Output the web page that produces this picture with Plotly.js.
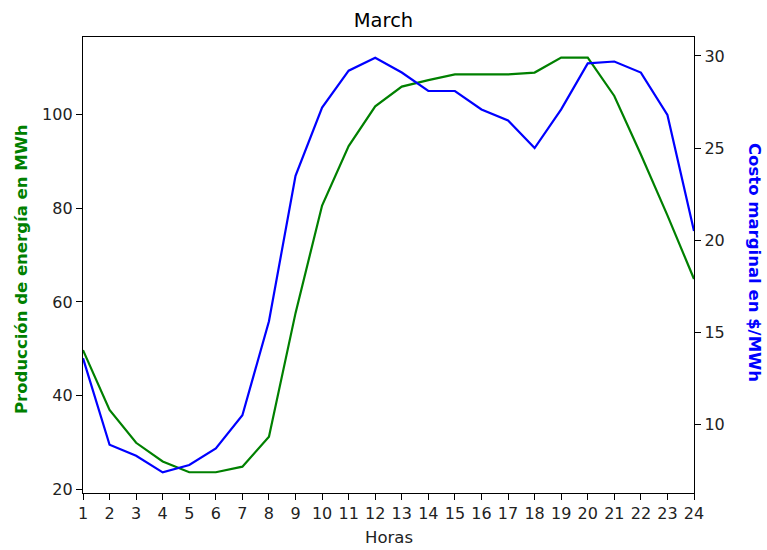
<!DOCTYPE html>
<html>
<head>
<meta charset="utf-8">
<script src="https://cdn.plot.ly/plotly-3.0.1.min.js"></script>
<style>html,body{margin:0;padding:0;background:#fff;}#chart{width:767px;height:550px;}</style>
</head>
<body>
<div id="chart"></div>
<script>
const hours = [1,2,3,4,5,6,7,8,9,10,11,12,13,14,15,16,17,18,19,20,21,22,23,24];
const produccion = [49.7,36.9,29.9,25.9,23.6,23.6,24.8,31.2,57.6,80.6,93.3,101.8,106.0,107.4,108.6,108.6,108.6,109.0,112.2,112.2,104.0,91.5,78.5,64.9];
const costo = [13.6,8.9,8.3,7.4,7.8,8.7,10.5,15.6,23.5,27.2,29.2,29.9,29.1,28.1,28.1,27.1,26.5,25.0,27.1,29.6,29.7,29.1,26.8,20.5];

const FAM = 'DejaVu Sans, sans-serif';
const tickFont = {family: FAM, size: 16, color: '#222'};

const traces = [
  {x: hours, y: produccion, type: 'scatter', mode: 'lines', line: {color: 'green', width: 2.2}, yaxis: 'y', hoverinfo: 'skip'},
  {x: hours, y: costo, type: 'scatter', mode: 'lines', line: {color: 'blue', width: 2.2}, yaxis: 'y2', hoverinfo: 'skip'}
];

const plotH = 456, plotW = 611;

const layout = {
  width: 767, height: 550,
  margin: {l: 83, r: 73, t: 37, b: 57},
  paper_bgcolor: '#fff', plot_bgcolor: '#fff',
  showlegend: false,
  font: tickFont,
  title: {text: 'March', font: {family: FAM, size: 19.5, color: '#000'}, x: 0.5, xanchor: 'center', y: 1 - 20/550, yanchor: 'middle'},
  xaxis: {
    range: [1, 24], tickmode: 'linear', tick0: 1, dtick: 1,
    showgrid: false, zeroline: false,
    showline: true, linecolor: '#000', linewidth: 1.2, mirror: true,
    ticks: 'outside', ticklen: 6, tickcolor: '#000',
    tickfont: tickFont
  },
  yaxis: {
    range: [19.17, 116.6], tickvals: [20,40,60,80,100],
    showgrid: false, zeroline: false,
    showline: true, linecolor: '#000', linewidth: 1.2,
    ticks: 'outside', ticklen: 6, tickcolor: '#000',
    tickfont: tickFont
  },
  yaxis2: {
    range: [6.28, 31.03], tickvals: [10,15,20,25,30],
    overlaying: 'y', side: 'right',
    showgrid: false, zeroline: false,
    showline: true, linecolor: '#000', linewidth: 1.2,
    ticks: 'outside', ticklen: 6, tickcolor: '#000',
    tickfont: tickFont
  },
  annotations: [
    {text: 'Horas', xref: 'paper', yref: 'paper', x: 0.5, y: -(537-493)/plotH, xanchor: 'center', yanchor: 'middle', showarrow: false, font: {family: FAM, size: 16.5, color: '#222'}},
    {text: '<b>Producción de energía en MWh</b>', xref: 'paper', yref: 'paper', x: -(83-21)/plotW, y: (493-269)/plotH, xanchor: 'center', yanchor: 'middle', textangle: -90, showarrow: false, font: {family: FAM, size: 16.5, color: 'green'}},
    {text: '<b>Costo marginal en $/MWh</b>', xref: 'paper', yref: 'paper', x: 1 + (755-694)/plotW, y: (493-262)/plotH, xanchor: 'center', yanchor: 'middle', textangle: 90, showarrow: false, font: {family: FAM, size: 16.5, color: 'blue'}}
  ]
};

Plotly.newPlot('chart', traces, layout, {displayModeBar: false, staticPlot: true});
</script>
</body>
</html>
